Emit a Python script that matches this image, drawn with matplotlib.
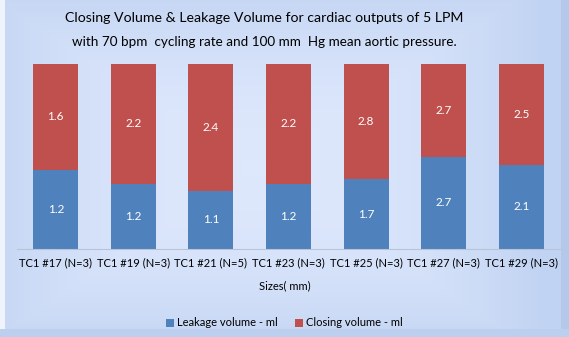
import numpy as np
import matplotlib.pyplot as plt
from matplotlib.patches import Rectangle

plt.rcParams['font.family'] = ['Lato', 'DejaVu Sans']

# data
sizes = ["TC1 #17 (N=3)", "TC1 #19 (N=3)", "TC1 #21 (N=5)", "TC1 #23 (N=3)",
         "TC1 #25 (N=3)", "TC1 #27 (N=3)", "TC1 #29 (N=3)"]
leakage = [1.2, 1.2, 1.1, 1.2, 1.7, 2.7, 2.1]
closing = [1.6, 2.2, 2.4, 2.2, 2.8, 2.7, 2.5]

blue = "#4f81bd"
red = "#c0504d"

fig = plt.figure(figsize=(5.69, 3.37), dpi=100)

# background gradient
bg = fig.add_axes([0, 0, 1, 1])
yy, xx = np.mgrid[0:1:200j, 0:1:300j]
d = np.maximum(np.abs(xx - 0.45) * 1.1, np.abs(yy - 0.5))
light = np.array([0.87, 0.91, 0.99])
dark = np.array([0.76, 0.83, 0.95])
img = light + (dark - light) * np.clip(d / 0.55, 0, 1)[..., None] ** 2
bg.imshow(img, extent=[0, 1, 0, 1], aspect="auto", origin="lower")
bg.add_patch(Rectangle((0, 0), 0.009, 1, color="#eef3fc", lw=0))
bg.add_patch(Rectangle((0.986, 0), 0.014, 1, color="#b4c8ea", lw=0))
bg.add_patch(Rectangle((0, 0), 1, 0.025, color="#bccfee", lw=0))
bg.set_xlim(0, 1)
bg.set_ylim(0, 1)
bg.axis("off")

# plot area
ax = fig.add_axes([17 / 569, 1 - 249 / 337, 543 / 569, 185 / 337])
ax.patch.set_alpha(0)
totals = np.array(leakage) + np.array(closing)
lk = np.array(leakage) / totals
cl = np.array(closing) / totals
x = np.arange(len(sizes))
w = 0.58
b1 = ax.bar(x, lk, w, color=blue, label="Leakage volume - ml")
b2 = ax.bar(x, cl, w, bottom=lk, color=red, label="Closing volume - ml")
for i in x:
    ax.text(i, lk[i] / 2, f"{leakage[i]:.1f}", ha="center", va="center",
            color="white", fontsize=8.5)
    ax.text(i, lk[i] + cl[i] / 2, f"{closing[i]:.1f}", ha="center", va="center",
            color="white", fontsize=8.5)

ax.set_xlim(-0.5, len(sizes) - 0.5)
ax.set_ylim(0, 1)
ax.set_yticks([])
ax.set_xticks(x)
ax.set_xticklabels(sizes, fontsize=8)
ax.tick_params(axis="x", length=0, pad=6)
for s in ["top", "left", "right"]:
    ax.spines[s].set_visible(False)
ax.spines["bottom"].set_color("#b8c4d6")

fig.text(0.5, 1 - 286 / 337, "Sizes( mm)", ha="center", va="center", fontsize=8)
fig.text(264 / 569, 1 - 18 / 337, "Closing Volume & Leakage Volume for cardiac outputs of 5 LPM",
         ha="center", va="center", fontsize=10.2)
fig.text(264 / 569, 1 - 42 / 337, "with 70 bpm  cycling rate and 100 mm  Hg mean aortic pressure.",
         ha="center", va="center", fontsize=9.7)

fig.legend(handles=[b1, b2], loc="center", bbox_to_anchor=(0.5, 1 - 323 / 337),
           ncol=2, frameon=False, fontsize=8, handlelength=0.7, handleheight=0.7,
           handletextpad=0.3, columnspacing=1.5)

fig.savefig("out.png", dpi=100)
